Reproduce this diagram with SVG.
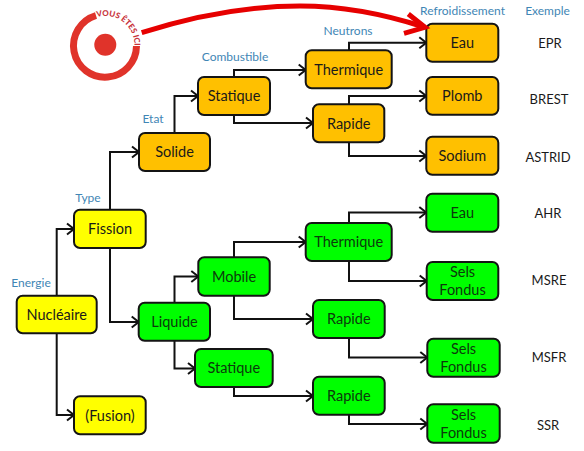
<svg xmlns="http://www.w3.org/2000/svg" width="584" height="451" viewBox="0 0 584 451">
<style>
.n rect{stroke:#141414;stroke-width:2}
.o rect{fill:#ffc000}.y rect{fill:#ffff00}.g rect{fill:#00ff00}
text{font-family:Lato,"Open Sans",sans-serif}
.n text{font-size:14.5px;fill:#1a1a1a;text-anchor:middle}
.ex{font-size:13px;fill:#1a1a1a;text-anchor:middle}
.g text{fill:#0c3a0c}
.lb{font-size:12px;fill:#3f86b5;text-anchor:middle}
.c path{fill:none;stroke:#111;stroke-width:2;marker-end:url(#a)}
</style>
<defs>
<marker id="a" markerUnits="userSpaceOnUse" markerWidth="12" markerHeight="14" refX="10" refY="7" orient="auto"><path d="M3 1.5L10 7L3 12.5" fill="none" stroke="#111" stroke-width="2"/></marker>
<path id="ringtext" d="M97 17.2A29 29 0 0 1 134.3 48"/>
</defs>
<rect width="584" height="451" fill="#fff"/>
<g id="connectors" class="c">
<path d="M56.7 296V229H74"/>
<path d="M56.7 333V415H74"/>
<path d="M110 210V152H139"/>
<path d="M110 248V322H138.7"/>
<path d="M174.5 133V96H198"/>
<path d="M234 77V70H305.7"/>
<path d="M234 115V123H313"/>
<path d="M349 50V42.7H426.3"/>
<path d="M349 104V96H426.3"/>
<path d="M349 142V156H426.3"/>
<path d="M174.5 303V276.5H198.3"/>
<path d="M174.5 341V368.5H195"/>
<path d="M234 257V242H305.7"/>
<path d="M234 296V319H313"/>
<path d="M234 387V396H313"/>
<path d="M349 223V212.5H426.3"/>
<path d="M349 261V281H426.7"/>
<path d="M349 338V357.5H427.3"/>
<path d="M349 415V424H427.3"/>
</g>
<g id="nucleaire" class="n y"><rect x="16.7" y="295.7" width="80" height="37.6" rx="6"/><text x="56.7" y="319.5">Nucléaire</text></g>
<g id="fission" class="n y"><rect x="74" y="209.7" width="71.7" height="38.3" rx="6"/><text x="110" y="234">Fission</text></g>
<g id="fusion" class="n y"><rect x="74" y="396.3" width="71.7" height="38" rx="6"/><text x="110" y="420.5">(Fusion)</text></g>
<g id="solide" class="n o"><rect x="139" y="133" width="71" height="38" rx="6"/><text x="174.5" y="157">Solide</text></g>
<g id="statique-o" class="n o"><rect x="198" y="77" width="72" height="38" rx="6"/><text x="234" y="101">Statique</text></g>
<g id="thermique-o" class="n o"><rect x="305.7" y="50.3" width="86" height="38" rx="6"/><text x="348.7" y="74.5">Thermique</text></g>
<g id="rapide-o" class="n o"><rect x="313" y="104.3" width="71.3" height="38" rx="6"/><text x="348.7" y="128.5">Rapide</text></g>
<g id="eau-o" class="n o"><rect x="426.3" y="23.7" width="72" height="38" rx="6"/><text x="462.3" y="48">Eau</text></g>
<g id="plomb" class="n o"><rect x="426.3" y="77" width="72" height="37.7" rx="6"/><text x="462.3" y="101">Plomb</text></g>
<g id="sodium" class="n o"><rect x="426.3" y="136.7" width="72" height="38" rx="6"/><text x="462.3" y="161">Sodium</text></g>
<g id="liquide" class="n g"><rect x="138.7" y="302.7" width="71.3" height="38" rx="6"/><text x="174.5" y="327">Liquide</text></g>
<g id="mobile" class="n g"><rect x="198.3" y="257.3" width="71.4" height="38.4" rx="6"/><text x="234" y="281.5">Mobile</text></g>
<g id="statique-g" class="n g"><rect x="195" y="349" width="77.7" height="38" rx="6"/><text x="233.8" y="373">Statique</text></g>
<g id="thermique-g" class="n g"><rect x="305.7" y="223" width="86" height="38" rx="6"/><text x="348.7" y="247">Thermique</text></g>
<g id="rapide-g1" class="n g"><rect x="313" y="300" width="71.7" height="38" rx="6"/><text x="348.8" y="324">Rapide</text></g>
<g id="rapide-g2" class="n g"><rect x="313" y="376.7" width="71.7" height="38" rx="6"/><text x="348.8" y="400.7">Rapide</text></g>
<g id="eau-g" class="n g"><rect x="426.3" y="193.7" width="72" height="38" rx="6"/><text x="462.3" y="218">Eau</text></g>
<g id="sels1" class="n g"><rect x="426.7" y="262" width="71.6" height="38" rx="6"/><text x="462.5" y="277">Sels</text><text x="462.5" y="295">Fondus</text></g>
<g id="sels2" class="n g"><rect x="427.3" y="338.7" width="72.4" height="38" rx="6"/><text x="463.5" y="354">Sels</text><text x="463.5" y="372">Fondus</text></g>
<g id="sels3" class="n g"><rect x="427.3" y="404.3" width="72.4" height="38.4" rx="6"/><text x="463.5" y="420">Sels</text><text x="463.5" y="438">Fondus</text></g>
<g id="labels">
<text class="lb" x="31" y="287">Energie</text>
<text class="lb" x="88" y="202">Type</text>
<text class="lb" x="153" y="123">Etat</text>
<text class="lb" x="235" y="61">Combustible</text>
<text class="lb" x="348" y="35">Neutrons</text>
<text class="lb" x="462.5" y="15">Refroidissement</text>
<text class="lb" x="547.5" y="15">Exemple</text>
</g>
<g id="exemples">
<text class="ex" x="550" y="48">EPR</text>
<text class="ex" x="549" y="104">BREST</text>
<text class="ex" x="548" y="162">ASTRID</text>
<text class="ex" x="548" y="218">AHR</text>
<text class="ex" x="549" y="285">MSRE</text>
<text class="ex" x="549" y="362">MSFR</text>
<text class="ex" x="548" y="430">SSR</text>
</g>
<g id="vous-etes-ici">
<path d="M96 15.5A31.5 31.5 0 1 0 136.5 46" fill="none" stroke="#e0332a" stroke-width="7"/>
<circle cx="105.3" cy="44.7" r="11" fill="#e0332a"/>
<text font-size="8" font-weight="900" fill="#c8323a"><textPath href="#ringtext">VOUS ÊTES ICI</textPath></text>
</g>
<g id="arrow" fill="none" stroke="#e60000" stroke-width="5">
<path d="M141.7 32.7C200 14 250 6 300 6C345 6 390 16 424 27"/>
<path d="M408.3 14L425 27.3L404 33.3"/>
</g>
</svg>
